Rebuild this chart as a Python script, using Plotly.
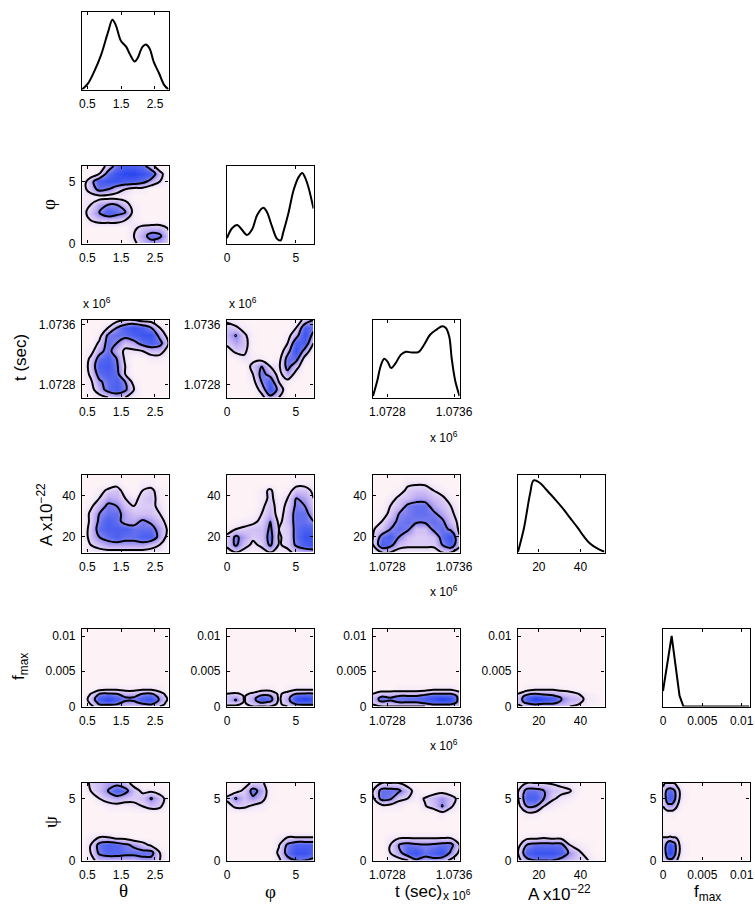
import numpy as np
import plotly.graph_objects as go

# ---------------- grid nodes (data coordinates) ----------------
theta_nodes = [0.34, 0.596, 0.852, 1.108, 1.364, 1.62, 1.876, 2.132, 2.388, 2.644, 2.9]
phi_nodes = [0, 0.628, 1.257, 1.885, 2.513, 3.142, 3.770, 4.398, 5.027, 5.655, 6.283]
t_nodes = [1072628, 1072732, 1072835, 1072939, 1073043, 1073147, 1073250, 1073354, 1073458, 1073561, 1073665]
A_nodes_x = [10, 14.15, 18.3, 22.45, 26.6, 30.75, 34.9, 39.05, 43.2, 47.35, 51.5]
A_nodes_y = [12.3, 16.07, 19.84, 23.61, 27.38, 31.15, 34.92, 38.69, 42.46, 46.23, 50]
fmax_nodes = [0, 0.0003, 0.0006, 0.0009, 0.0012, 0.0015, 0.0018, 0.0021, 0.0025, 0.0035, 0.011]
psi_nodes = [0, 0.628, 1.257, 1.885, 2.513, 3.142, 3.770, 4.398, 5.027, 5.655, 6.283]

# ---------------- tick labels ----------------
theta_ticks = [0.5, 1.5, 2.5]; theta_ticktext = ['0.5', '1.5', '2.5']
phi_ticks = [0, 5]; phi_ticktext = ['0', '5']
t_ticks = [1072800, 1073600]; t_ticktext = ['1.0728', '1.0736']
A_ticks = [20, 40]; A_ticktext = ['20', '40']
fmax_ticks = [0, 0.005, 0.01]; fmax_ticktext = ['0', '0.005', '0.01']
psi_ticks = [0, 5]; psi_ticktext = ['0', '5']

# ---------------- 1-D marginal densities ----------------
diag_theta_x = [0.34, 0.52, 0.70, 0.90, 1.11, 1.24, 1.34, 1.49, 1.65, 1.75, 1.90, 1.98, 2.13, 2.23, 2.34, 2.46, 2.62, 2.77, 2.9]
diag_theta_y = [0.0, 0.08, 0.23, 0.44, 0.74, 0.90, 0.83, 0.63, 0.55, 0.46, 0.36, 0.40, 0.55, 0.58, 0.53, 0.36, 0.21, 0.06, 0.0]
diag_phi_x = [0.0, 0.38, 0.75, 1.07, 1.45, 1.82, 2.20, 2.64, 2.89, 3.27, 3.64, 3.90, 4.08, 4.46, 4.84, 5.21, 5.47, 5.65, 5.91, 6.283]
diag_phi_y = [0.07, 0.20, 0.24, 0.18, 0.11, 0.18, 0.37, 0.46, 0.41, 0.22, 0.06, 0.04, 0.14, 0.39, 0.69, 0.86, 0.91, 0.86, 0.73, 0.45]
diag_t_x = [1072628, 1072680, 1072721, 1072763, 1072804, 1072846, 1072898, 1072960, 1073022, 1073095,
            1073178, 1073240, 1073312, 1073395, 1073458, 1073499, 1073541, 1073572, 1073613, 1073665]
diag_t_y = [0.02, 0.22, 0.41, 0.50, 0.46, 0.38, 0.44, 0.55, 0.59, 0.58, 0.59, 0.68, 0.81, 0.88, 0.92, 0.90, 0.79, 0.50, 0.22, 0.02]
diag_A_x = [10, 12.9, 15.8, 17.5, 20.4, 23.3, 27.0, 31.2, 34.9, 38.6, 41.5, 44.4, 48.2, 51.5]
diag_A_y = [0.01, 0.32, 0.76, 0.93, 0.90, 0.82, 0.71, 0.58, 0.45, 0.32, 0.21, 0.12, 0.05, 0.01]
diag_fmax_x = [0, 0.0011, 0.0021, 0.0026, 0.011]
diag_fmax_y = [0.20, 0.91, 0.14, 0.0, 0.0]

# ---------------- 2-D densities (rows listed top -> bottom) ----------------
dens_phi_theta = [
    [0, 0, 0, 3, 6, 7, 7, 6, 3, 0, 0],
    [0, 0, 2, 6, 8, 9, 9, 8, 7, 3, 0],
    [0, 4, 7, 8, 8, 7, 7, 6, 4, 2, 0],
    [1, 3, 6, 5, 3, 2, 1, 1, 0, 0, 0],
    [1, 1, 1, 1, 1, 1, 0, 0, 0, 0, 0],
    [1, 2, 4, 5, 5, 3, 1, 0, 0, 0, 0],
    [1, 3, 5, 7, 6, 5.3, 1, 0, 0, 0, 0],
    [0, 2, 3, 3, 3, 2, 1, 0, 0, 0, 0],
    [0, 0, 0, 0, 0, 0, 1.5, 2.8, 3.2, 3.2, 1.8],
    [0, 0, 0, 0, 0, 0, 2, 4, 6, 5.5, 2.5],
    [0, 0, 0, 0, 0, 0, 1.5, 3, 4, 3.5, 2],
]
dens_t_theta = [
    [0, 0, 0, 0, 1, 2, 2, 1, 1, 0, 0],
    [0, 0, 0, 2, 5, 7, 8, 7, 5, 2, 0],
    [0, 0, 1, 5.5, 6, 6, 7, 8, 8, 4, 1],
    [0, 0, 2.5, 6, 5, 3, 4, 6, 7, 6, 2],
    [0, 1, 4, 6, 3.5, 1.5, 1.5, 2, 3, 3, 1],
    [0, 2.5, 6, 7, 5, 1.5, 0, 0, 1, 1, 0],
    [0, 3, 7, 7.5, 5.5, 2, 0, 0, 0, 0, 0],
    [0, 2.5, 6, 7, 6, 2, 0, 0, 0, 0, 0],
    [0, 1.5, 4.5, 6, 7, 5, 1, 0, 0, 0, 0],
    [0, 1, 3.5, 6, 7, 5.5, 2, 0, 0, 0, 0],
    [0, 0, 1, 2, 3, 2, 1, 0, 0, 0, 0],
]
dens_t_phi = [
    [1.5, 0.5, 0, 0, 0, 0, 0, 0, 0, 3, 5],
    [3, 2.5, 1, 0, 0, 0, 0, 0, 2, 7, 6],
    [3.5, 5.1, 2.5, 0.5, 0, 0, 0, 1, 4, 8, 4],
    [2.5, 4, 3, 0.5, 0, 0, 0, 2, 7, 7, 2],
    [1, 2.5, 2.5, 0.5, 0, 0, 0, 4, 8, 4, 0],
    [0, 0.5, 1.5, 1, 1, 0, 1, 6, 6, 1, 0],
    [0, 0, 0, 3, 5, 2, 1.5, 6, 3, 0, 0],
    [0, 0, 0, 2, 6, 4, 1, 4, 1, 0, 0],
    [0, 0, 0, 1, 5, 7, 2, 1, 0, 0, 0],
    [0, 0, 0, 0, 3, 8, 4, 0, 0, 0, 0],
    [0, 0, 0, 0, 1, 4, 2, 0, 0, 0, 0],
]
dens_A_theta = [
    [0, 0, 0, 0, 0, 0, 0, 0, 0, 0, 0],
    [0, 0, 0, 0, 1, 0, 0, 1, 1, 0, 0],
    [0, 0, 1, 2.5, 3, 1, 0, 2, 2.5, 1, 0],
    [0, 0.5, 2, 4, 3.5, 2, 1.5, 2.5, 3, 1, 0],
    [0, 1.5, 3.5, 5.5, 5, 3, 2, 2.5, 2.5, 1.5, 0],
    [0, 2.5, 5, 6, 6, 4, 3, 3, 3, 2, 0.5],
    [0, 2.5, 5.5, 7, 6, 4, 4, 5.5, 4.5, 3, 1],
    [0, 3, 6, 7, 7, 7, 6, 6, 6, 4, 1.5],
    [0, 3, 5, 6, 7, 6, 6, 7, 7, 4, 1],
    [0, 2, 3, 4, 4, 4, 4, 4, 3, 2, 0],
    [0, 1, 1, 1, 1, 1, 1, 1, 1, 1, 0],
]
dens_A_phi = [
    [0, 0, 0, 0, 0, 0, 0, 0, 0, 0, 0],
    [0, 0, 0, 0, 0, 0, 0, 0, 1, 1, 1],
    [0, 0, 0, 0, 1, 2.5, 0, 1, 3, 3, 1.5],
    [0, 0, 0, 0, 1, 2.5, 1, 2, 5, 4, 2],
    [0, 0, 0, 0, 1.5, 3, 1, 2.5, 5.5, 5, 2.5],
    [0, 0, 0, 0.5, 2, 3.5, 1, 3, 6, 6, 3.5],
    [0, 0.5, 1, 1.5, 2.5, 5, 1.5, 3, 6, 6, 5],
    [1, 2, 2.5, 3, 3, 5.5, 2, 2.5, 6, 7, 7],
    [2.5, 5.5, 4, 2.5, 3, 6, 1.8, 2.5, 6, 8, 8],
    [2.5, 5.5, 3, 1.5, 2.5, 5.5, 1.8, 2.5, 5.5, 7, 8],
    [1, 2, 1, 0.5, 1, 2, 1, 1.5, 2.5, 3, 3],
]
dens_A_t = [
    [0, 0, 0, 0, 0, 0, 0, 0, 0, 0, 0],
    [0, 0, 0, 0, 1.5, 1.6, 1.5, 0.5, 0, 0, 0],
    [0, 0, 0, 1, 2.5, 3, 3, 2, 1, 0, 0],
    [0, 0, 1, 2.5, 3, 4, 4, 3, 2.5, 1, 0],
    [0, 0.5, 2, 3, 5.5, 6, 6, 4, 3, 2, 0.5],
    [0, 1, 2.5, 5, 5.5, 6, 6, 5.5, 4, 2.5, 1],
    [0, 2, 4, 5.5, 6, 5.5, 5.5, 6, 5.5, 3, 1.5],
    [1.8, 3, 5, 6, 5.5, 3, 3, 5.5, 6, 4.5, 1.5],
    [2, 6, 7, 5, 3, 2.5, 2.5, 3, 6, 8, 2.2],
    [2, 7, 6, 3, 2.5, 2.5, 2.5, 2.5, 5, 7, 2.5],
    [1, 2, 2, 1, 1, 1, 1, 1, 2, 2, 1],
]
dens_fmax_theta = [
    [0] * 11,
    [0] * 11,
    [0, 0, 1, 1.5, 1.5, 1, 1, 1.5, 1.5, 1, 0],
    [0, 1, 3, 3, 3, 2.5, 2.5, 3, 3, 2, 0.5],
    [0, 2, 5, 5.5, 5, 3.5, 3.5, 5, 5.5, 3, 1],
    [0, 2.5, 6, 7, 6, 4.5, 4.5, 6, 6.5, 4, 1],
    [0, 3, 7, 8, 7, 5.3, 5.3, 7, 7.5, 4.5, 1.5],
    [0, 3, 7, 9, 7, 5.3, 5.3, 7, 8, 4.5, 1.5],
    [0, 2.5, 6, 7, 6, 4.5, 4.5, 6, 6.5, 4, 1],
    [0, 2, 5, 5.5, 5, 3.5, 3.5, 4.5, 5, 3, 1],
    [0, 1.5, 3, 3, 3, 2.5, 2.5, 2.5, 3, 2, 0.5],
]
dens_fmax_phi = [
    [0] * 11,
    [0] * 11,
    [0, 0, 0, 0, 1, 1, 0, 1, 1.5, 1.5, 1.5],
    [1, 1, 1, 1.5, 2.5, 2.5, 1, 2, 3, 3, 3],
    [2, 2.5, 1.5, 2.5, 4, 4, 1.5, 3, 5, 5.5, 5.5],
    [3, 3.5, 1.8, 3.5, 5.5, 5, 1.5, 3.5, 7, 7, 7],
    [3, 4.5, 1.8, 4, 7, 6, 1.5, 4, 8, 9, 8],
    [3, 5.2, 1.8, 4, 7, 6, 1.5, 4, 8, 9, 8],
    [3, 3.5, 1.8, 3.5, 5.5, 4.5, 1.5, 3.5, 7, 7, 7],
    [2.5, 2.5, 1.5, 3, 3.5, 3, 1.5, 3, 5, 5.5, 5.5],
    [1.5, 1.5, 1.5, 2, 2, 2, 1, 2, 3, 3, 3],
]
dens_fmax_t = [
    [0] * 11,
    [0] * 11,
    [0, 0, 0, 1, 1, 1, 1, 1.5, 1.5, 1.5, 0.5],
    [1, 2.2, 2.2, 2.2, 2.2, 2.2, 2.5, 3, 3, 3, 2],
    [2, 3, 3, 3.5, 3.5, 3.5, 4, 5, 5, 5, 3],
    [2.5, 4.5, 4, 5, 5, 5, 6, 7, 7, 7, 4],
    [3, 6, 5.2, 5.8, 6, 6, 7, 8, 9, 8, 4],
    [3, 6, 5.2, 5.8, 6, 6, 7, 8, 9, 8, 4],
    [2.5, 4.5, 4, 5, 5, 5, 6, 6.5, 7, 7, 4],
    [2, 3, 3, 3.5, 3.5, 3.5, 4, 5, 5, 5, 3],
    [1, 2, 2, 2, 2, 2, 2, 3, 3, 3, 2],
]
dens_fmax_A = [
    [0] * 11,
    [0] * 11,
    [0, 1, 1.5, 1.5, 1.5, 1, 0.5, 0, 0, 0, 0],
    [1, 2.5, 3, 3, 3, 2.5, 2, 1.5, 0.5, 0, 0],
    [2, 4, 5, 4.5, 4, 3, 2.5, 2, 1, 0.5, 0],
    [2.5, 6, 7, 6, 5.5, 4, 3, 2.5, 1, 0.5, 0],
    [3, 7, 9, 8, 7, 5, 3.5, 3, 1.2, 0.8, 0],
    [3, 7, 9, 8, 7, 5, 3.5, 3, 1.2, 0.8, 0],
    [3, 6, 7, 6, 6, 4.5, 3, 2.5, 1, 0.5, 0],
    [2, 4, 5, 4.5, 4.5, 3.5, 3, 2, 1, 0.5, 0],
    [1, 3, 3, 3, 3, 2.5, 2, 1.5, 0.8, 0.3, 0],
]
dens_psi_theta = [
    [0, 2.5, 3, 4, 4, 3, 1, 0, 0, 0, 0],
    [0, 2, 3, 5, 7, 6, 3, 1.5, 1.5, 1, 0],
    [0, 0, 2, 3, 4, 3, 2.5, 3, 5.2, 3, 1],
    [0, 0, 0, 1, 1, 1, 1.5, 2, 3, 2.5, 0],
    [0] * 11,
    [0] * 11,
    [0] * 11,
    [0, 1, 2, 2, 1, 1, 0, 0, 0, 0, 0],
    [0, 2, 6, 7, 6.5, 5.5, 4.5, 3, 1.5, 0, 0],
    [0, 2, 5.5, 6.5, 6.5, 6, 6, 6, 6, 2, 0],
    [0, 1, 3, 3, 3, 3, 3, 4, 4, 2, 0],
]
dens_psi_phi = [
    [0, 0, 1, 2.5, 2.5, 0.5, 0, 0, 0, 0, 0],
    [0.5, 1, 2.5, 6, 4, 0.5, 0, 0, 0, 0, 0],
    [2.5, 5.2, 3, 4.5, 3, 0.5, 0, 0, 0, 0, 0],
    [1, 2.5, 2.5, 1.5, 1, 0, 0, 0, 0, 0, 0],
    [0] * 11,
    [0] * 11,
    [0] * 11,
    [0, 0, 0, 0, 0, 0, 1, 2, 2, 2, 2],
    [0, 0, 0, 0, 0, 0, 1.8, 5.5, 7, 7, 7],
    [0, 0, 0, 0, 0, 0, 2.5, 6, 8, 8, 7],
    [0, 0, 0, 0, 0, 0, 1.5, 4, 5, 5, 4],
]
dens_psi_t = [
    [1, 2, 2, 2, 1, 0, 0, 0, 0, 0, 0],
    [2, 6, 6, 5.5, 3, 1, 0, 0.5, 1, 0.5, 0],
    [1.5, 6, 5.5, 2.5, 2, 1, 2.2, 3.5, 4.5, 3, 1.2],
    [0, 1, 1, 1, 0, 0, 1.8, 3, 5.1, 2.5, 0],
    [0, 0, 0, 0, 0, 0, 0, 0, 1, 0, 0],
    [0] * 11,
    [0] * 11,
    [0, 0, 1, 1.5, 1.5, 1.5, 1.5, 1.5, 1.5, 1.5, 0.5],
    [0, 0, 2, 5, 6, 5.5, 5.2, 5.5, 6, 6, 2],
    [0, 0, 2, 4, 7, 8, 6, 7, 8, 4.5, 1.5],
    [0, 0, 1, 1, 1.8, 4.5, 4, 4, 3, 1.5, 1],
]
dens_psi_A = [
    [1.5, 2, 2, 2, 1.8, 1.5, 1, 0, 0, 0, 0],
    [1.8, 6, 6, 5, 3, 2.5, 2.2, 0.5, 0, 0, 0],
    [1.8, 7, 7, 5, 2.3, 1.5, 1, 0, 0, 0, 0],
    [1, 5, 5, 2, 1, 0.5, 0, 0, 0, 0, 0],
    [0, 1, 1, 0, 0, 0, 0, 0, 0, 0, 0],
    [0] * 11,
    [0] * 11,
    [0, 1, 1, 1.5, 1, 1, 0, 0, 0, 0, 0],
    [1, 5, 6, 6, 6, 6, 2, 1, 0.5, 0, 0],
    [2, 7, 8, 8, 8, 7, 4.5, 2.5, 1, 0, 0],
    [1, 4, 5, 5, 5, 4, 3, 2.5, 2.2, 0.5, 0],
]
dens_psi_fmax = [
    [1, 2, 2, 2, 2, 1.8, 1.2, 1, 0, 0, 0],
    [3, 4.5, 6, 6.5, 6, 5, 3, 2, 1, 0, 0],
    [3, 4.5, 7, 7.5, 7, 5.5, 3, 2, 1, 0, 0],
    [2, 3, 4, 4, 4, 3, 2, 1, 0, 0, 0],
    [0, 0.5, 0.5, 0.5, 0.5, 0.5, 0, 0, 0, 0, 0],
    [0] * 11,
    [0] * 11,
    [2, 2, 2, 2.2, 2, 2, 1.8, 1, 0, 0, 0],
    [3, 4.5, 7, 8, 7, 6, 3, 2, 1, 0, 0],
    [3, 4.5, 8, 9, 8, 6, 3, 2, 1, 0, 0],
    [2, 3, 4, 4, 4, 3, 2, 1, 0, 0, 0],
]

# ---------------- parameter descriptions ----------------
params = [
    dict(xn=theta_nodes, yn=theta_nodes, xr=[0.34, 2.9], yr=[0.34, 2.9], tv=theta_ticks, tt=theta_ticktext),
    dict(xn=phi_nodes, yn=phi_nodes, xr=[0, 6.283], yr=[0, 6.283], tv=phi_ticks, tt=phi_ticktext),
    dict(xn=t_nodes, yn=t_nodes, xr=[1072628, 1073665], yr=[1072628, 1073665], tv=t_ticks, tt=t_ticktext),
    dict(xn=A_nodes_x, yn=A_nodes_y, xr=[10, 51.5], yr=[12.3, 50], tv=A_ticks, tt=A_ticktext),
    dict(xn=fmax_nodes, yn=fmax_nodes, xr=[0, 0.011], yr=[0, 0.011], tv=fmax_ticks, tt=fmax_ticktext),
    dict(xn=psi_nodes, yn=psi_nodes, xr=[0, 6.283], yr=[0, 6.283], tv=psi_ticks, tt=psi_ticktext),
]
diag_data = [
    (diag_theta_x, diag_theta_y, 'spline'),
    (diag_phi_x, diag_phi_y, 'spline'),
    (diag_t_x, diag_t_y, 'spline'),
    (diag_A_x, diag_A_y, 'spline'),
    (diag_fmax_x, diag_fmax_y, 'linear'),
]
dens2d = {
    (1, 0): dens_phi_theta,
    (2, 0): dens_t_theta, (2, 1): dens_t_phi,
    (3, 0): dens_A_theta, (3, 1): dens_A_phi, (3, 2): dens_A_t,
    (4, 0): dens_fmax_theta, (4, 1): dens_fmax_phi, (4, 2): dens_fmax_t, (4, 3): dens_fmax_A,
    (5, 0): dens_psi_theta, (5, 1): dens_psi_phi, (5, 2): dens_psi_t, (5, 3): dens_psi_A, (5, 4): dens_psi_fmax,
}

# ---------------- layout geometry (pixels) ----------------
FW, FH = 755, 904
col_left = [82, 227, 373, 518, 663]
row_top = [12, 166, 320, 475, 629, 783]
PW, PH = 86.5, 77.5

cscale = [[0.0, '#fdf3f6'], [0.12, '#f5eaf8'], [0.22, '#e5d7f7'], [0.40, '#c2b0f3'],
          [0.55, '#8d88f0'], [0.70, '#5868ef'], [1.0, '#2a46f0']]

tickfont = dict(family='Liberation Sans, Arial, sans-serif', size=12, color='black')
axis_common = dict(showline=True, linecolor='black', linewidth=1.2, mirror='ticks', ticks='inside',
                   ticklen=3, tickwidth=1, tickcolor='black', showgrid=False, zeroline=False,
                   tickfont=tickfont, ticklabelstandoff=3, automargin=False)

fig = go.Figure()
layout = {}
n = 0


def add_axes(r, c, xp, yp, diag):
    global n
    n += 1
    x0 = col_left[c] / FW
    x1 = (col_left[c] + PW) / FW
    y1 = 1 - row_top[r] / FH
    y0 = 1 - (row_top[r] + PH) / FH
    xa = dict(axis_common, domain=[x0, x1], anchor='y%d' % n, range=xp['xr'],
              tickmode='array', tickvals=xp['tv'], ticktext=xp['tt'])
    if diag:
        ya = dict(axis_common, domain=[y0, y1], anchor='x%d' % n, range=[0, 1],
                  showticklabels=False, ticks='')
    else:
        ya = dict(axis_common, domain=[y0, y1], anchor='x%d' % n, range=yp['yr'],
                  tickmode='array', tickvals=yp['tv'], ticktext=yp['tt'])
    layout['xaxis%d' % n] = xa
    layout['yaxis%d' % n] = ya
    return 'x%d' % n, 'y%d' % n


for i in range(5):
    xa, ya = add_axes(i, i, params[i], None, True)
    dx, dy, shape = diag_data[i]
    fig.add_trace(go.Scatter(x=dx, y=dy, mode='lines', line=dict(color='black', width=2, shape=shape, smoothing=1.0),
                             xaxis=xa, yaxis=ya, showlegend=False, hoverinfo='skip'))

for (r, c), grid in dens2d.items():
    xa, ya = add_axes(r, c, params[c], params[r], False)
    z = np.array(grid, dtype=float)[::-1]
    fig.add_trace(go.Heatmap(z=z, x=params[c]['xn'], y=params[r]['yn'], zsmooth='best', colorscale=cscale,
                             zmin=0, zmax=9, showscale=False, xaxis=xa, yaxis=ya, hoverinfo='skip'))
    fig.add_trace(go.Contour(z=z, x=params[c]['xn'], y=params[r]['yn'], autocontour=False,
                             contours=dict(start=2, end=5, size=3, coloring='lines'),
                             colorscale=[[0, 'black'], [1, 'black']], line=dict(width=2, smoothing=1.0),
                             showscale=False, xaxis=xa, yaxis=ya, hoverinfo='skip'))

# ---------------- annotations ----------------
sans = 'Liberation Sans, Arial, sans-serif'
serif = 'Liberation Serif, Times New Roman, serif'
ann = []


def A(px, py, text, size=17, family=sans, angle=0, xanchor='center'):
    ann.append(dict(x=px / FW, y=1 - py / FH, xref='paper', yref='paper', text=text, showarrow=False,
                    font=dict(family=family, size=size, color='black'), textangle=angle,
                    xanchor=xanchor, yanchor='middle'))


# y-axis titles
A(48, 205, 'φ', 19, serif, -90)
A(20, 358, 't (sec)', 17, sans, -90)
A(45, 515, 'A x10<sup>−22</sup>', 17, sans, -90)
A(20, 667, 'f<sub>max</sub>', 17, sans, -90)
A(50, 822, 'ψ', 19, serif, -90)
# x-axis titles
A(124, 890, 'θ', 19, serif)
A(270, 891, 'φ', 19, serif)
A(418, 891, 't (sec)', 17, sans)
A(559, 893, 'A x10<sup>−22</sup>', 17, sans)
A(707, 893, 'f<sub>max</sub>', 17, sans)
# exponent labels
A(81, 303, 'x 10<sup>6</sup>', 12, sans, 0, 'left')
A(227, 303, 'x 10<sup>6</sup>', 12, sans, 0, 'left')
A(444, 437, 'x 10<sup>6</sup>', 12, sans)
A(444, 591, 'x 10<sup>6</sup>', 12, sans)
A(444, 745, 'x 10<sup>6</sup>', 12, sans)
A(441, 895, 'x 10<sup>6</sup>', 12, sans, 0, 'left')

fig.update_layout(width=FW, height=FH, margin=dict(l=0, r=0, t=0, b=0), paper_bgcolor='white',
                  plot_bgcolor='white', showlegend=False, annotations=ann, template='none', **layout)
fig.write_html('out.html', config={'displayModeBar': False},
               post_script="document.body.style.margin='0px';document.body.style.overflow='hidden';")
